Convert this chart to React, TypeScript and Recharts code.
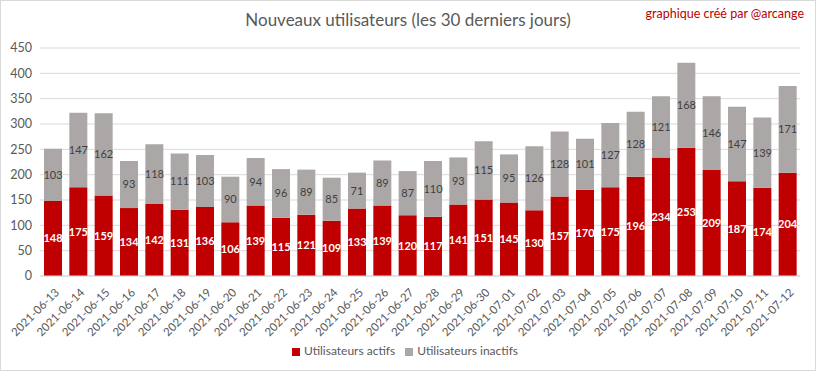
import React from 'react';
import { BarChart, Bar, XAxis, YAxis, CartesianGrid, Legend, LabelList } from 'recharts';

const dates = ['2021-06-13','2021-06-14','2021-06-15','2021-06-16','2021-06-17','2021-06-18','2021-06-19','2021-06-20','2021-06-21','2021-06-22','2021-06-23','2021-06-24','2021-06-25','2021-06-26','2021-06-27','2021-06-28','2021-06-29','2021-06-30','2021-07-01','2021-07-02','2021-07-03','2021-07-04','2021-07-05','2021-07-06','2021-07-07','2021-07-08','2021-07-09','2021-07-10','2021-07-11','2021-07-12'];
const actifs = [148,175,159,134,142,131,136,106,139,115,121,109,133,139,120,117,141,151,145,130,157,170,175,196,234,253,209,187,174,204];
const inactifs = [103,147,162,93,118,111,103,90,94,96,89,85,71,89,87,110,93,115,95,126,128,101,127,128,121,168,146,147,139,171];
const yTicks = [0,50,100,150,200,250,300,350,400,450];

const data = dates.map((d, i) => ({ date: d, actifs: actifs[i], inactifs: inactifs[i] }));

const FONT = 'Lato, "Noto Sans", sans-serif';

const XTick = (props: any) => {
  const { x, y, payload } = props;
  return (
    <g transform={`translate(${x + 4},${y + 6})`}>
      <text transform="rotate(-45)" textAnchor="end" dominantBaseline="central" fontSize={11.5} fill="#595959" fontFamily={FONT}>
        {payload.value}
      </text>
    </g>
  );
};

export default function App() {
  return (
    <div style={{ position: 'absolute', left: 0, top: 0, width: 816, height: 371, background: '#fff', fontFamily: FONT }}>
      <div style={{ position: 'absolute', left: 0, top: 0, width: 814, height: 369, border: '1px solid #d9d9d9' }} />
      <div style={{ position: 'absolute', left: 0, top: 9, width: 816, textAlign: 'center', fontSize: 17, color: '#595959' }}>
        Nouveaux utilisateurs (les 30 derniers jours)
      </div>
      <div style={{ position: 'absolute', right: 12, top: 6, fontSize: 12.5, color: '#c00000' }}>
        graphique créé par @arcange
      </div>
      <div style={{ position: 'absolute', left: 0, top: 0 }}>
        <BarChart width={816} height={371} data={data} margin={{ top: 48, right: 16, bottom: 0, left: 0 }} barSize={18}>
          <CartesianGrid vertical={false} stroke="#d9d9d9" />
          <XAxis dataKey="date" interval={0} tick={<XTick />} tickLine={false} axisLine={{ stroke: '#d9d9d9' }} height={67} />
          <YAxis domain={[0, 450]} ticks={yTicks} width={40} tickLine={false} axisLine={false}
            tick={{ fontSize: 12.5, fill: '#595959', fontFamily: FONT }} />
          <Legend verticalAlign="bottom" height={28} iconType="square" iconSize={8}
            wrapperStyle={{ fontSize: 12, fontFamily: FONT, color: '#595959', left: 10 }}
            formatter={(v: string) => <span style={{ color: '#595959' }}>{v}</span>} />
          <Bar dataKey="actifs" name="Utilisateurs actifs" stackId="a" fill="#c00000" isAnimationActive={false}>
            <LabelList dataKey="actifs" position="center" fill="#ffffff" stroke="none" fontSize={11} fontWeight="bold" fontFamily={FONT} />
          </Bar>
          <Bar dataKey="inactifs" name="Utilisateurs inactifs" stackId="a" fill="#aba7a7" isAnimationActive={false}>
            <LabelList dataKey="inactifs" position="center" fill="#404040" stroke="none" fontSize={11} fontFamily={FONT} />
          </Bar>
        </BarChart>
      </div>
    </div>
  );
}
